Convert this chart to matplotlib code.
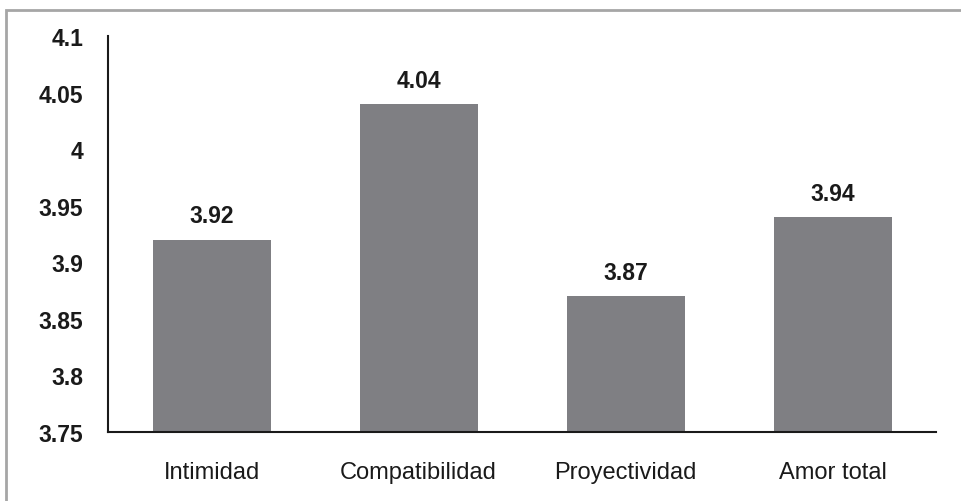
import matplotlib
matplotlib.use('Agg')

import matplotlib.pyplot as plt
from matplotlib.patches import Rectangle

categories = ['Intimidad', 'Compatibilidad', 'Proyectividad', 'Amor total']
values = [3.92, 4.04, 3.87, 3.94]
yticks = [3.75, 3.8, 3.85, 3.9, 3.95, 4.0, 4.05, 4.1]
ytick_labels = ['3.75', '3.8', '3.85', '3.9', '3.95', '4', '4.05', '4.1']

plt.rcParams['font.family'] = ['Liberation Sans', 'DejaVu Sans']

fig = plt.figure(figsize=(9.62, 5.02), dpi=100)
ax = fig.add_axes([0.1123, 0.1375, 0.8607, 0.7885])

# outer grey frame
fig.patches.append(Rectangle((6 / 962, -0.1), 1.2, 1 - 11 / 502 + 0.1,
                             transform=fig.transFigure, fill=False,
                             edgecolor='#a6a6a6', linewidth=2))

x_pos = list(range(len(categories)))
ax.bar(x_pos, values, width=0.57, color='#7f7f83', zorder=2)

for x, v in zip(x_pos, values):
    ax.text(x, v + 0.011, f'{v:.2f}', ha='center', va='bottom',
            fontsize=16.5, fontweight='bold', color='#1a1a1a')

ax.set_xlim(-0.5, len(categories) - 0.5)
ax.set_ylim(3.75, 4.1)
ax.set_yticks(yticks)
ax.set_yticklabels(ytick_labels, fontsize=16.5, fontweight='bold', color='#1a1a1a')
ax.set_xticks(x_pos)
ax.set_xticklabels(categories, fontsize=17, color='#1a1a1a')
ax.tick_params(axis='both', length=0)
ax.tick_params(axis='y', pad=18)
ax.tick_params(axis='x', pad=21)

for s in ['top', 'right']:
    ax.spines[s].set_visible(False)
for s in ['left', 'bottom']:
    ax.spines[s].set_color('#1a1a1a')
    ax.spines[s].set_linewidth(1.5)

fig.savefig('out.png', dpi=100)
